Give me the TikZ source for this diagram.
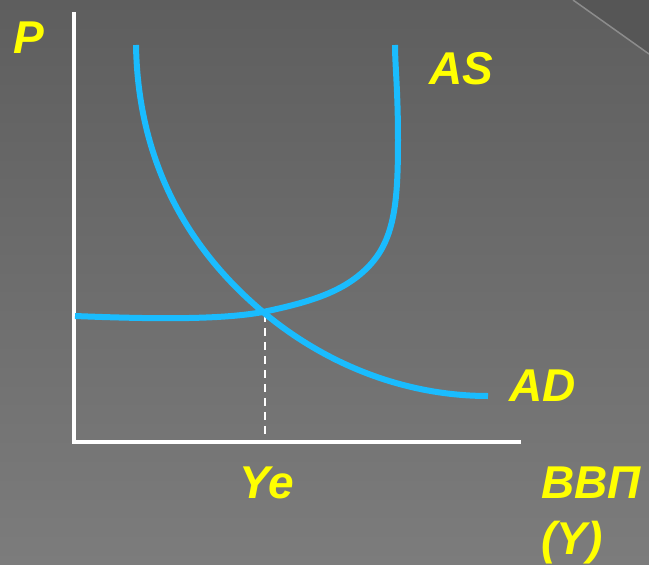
\documentclass[tikz,border=0pt]{standalone}
\usepackage{fontspec}
\setmainfont{Liberation Sans}
\definecolor{bgtop}{RGB}{94,94,94}
\definecolor{bgbot}{RGB}{124,124,124}
\definecolor{corner}{RGB}{86,86,86}
\definecolor{cornerline}{RGB}{140,140,140}
\definecolor{curve}{RGB}{26,188,254}
\definecolor{lbl}{RGB}{255,255,0}
\tikzset{
  axis/.style={draw=white, line width=4pt},
  curveline/.style={draw=curve, line width=6pt},
  lab/.style={text=lbl, font=\fontsize{46}{48}\selectfont\bfseries\itshape, inner sep=0pt, anchor=base west},
}
\begin{document}
\begin{tikzpicture}[x=1pt,y=-1pt]
\shade[top color=bgtop, bottom color=bgbot] (0,0) rectangle (649,565);
\useasboundingbox (0,0) rectangle (649,565);
\fill[corner] (573,0) -- (649,54) -- (649,0) -- cycle;
\draw[cornerline, line width=1.5pt] (573,0) -- (649,54);
% axes
\coordinate (top) at (74,12);
\coordinate (origin) at (74,442);
\coordinate (right) at (521,442);
\draw[axis] (top) -- (origin) -- (right);
% dashed
\coordinate (eq) at (265,314);
\coordinate (eqx) at (265,440);
\draw[white, line width=2pt, dash pattern=on 8pt off 6pt] (eq) -- (eqx);
% AS
\draw[curveline] (75,316) .. controls (150,319) and (220,320) .. (263,312)
  .. controls (310,302) and (345,292) .. (370,265)
  .. controls (395,238) and (398,200) .. (398,140)
  .. controls (398,90) and (395,65) .. (395,45);
% AD
\draw[curveline] (136,45) .. controls (138,170) and (195,255) .. (263,312)
  .. controls (330,368) and (410,396) .. (488,396);
% labels
\node[lab] (P) at (13,53) {P};
\node[lab] (AS) at (429,84) {AS};
\node[lab] (AD) at (509,401) {AD};
\node[lab] (Ye) at (239,498) {Ye};
\node[lab] (VVP) at (541,498) {ВВП};
\node[lab] (Y) at (541,554) {(Y)};
\end{tikzpicture}
\end{document}
